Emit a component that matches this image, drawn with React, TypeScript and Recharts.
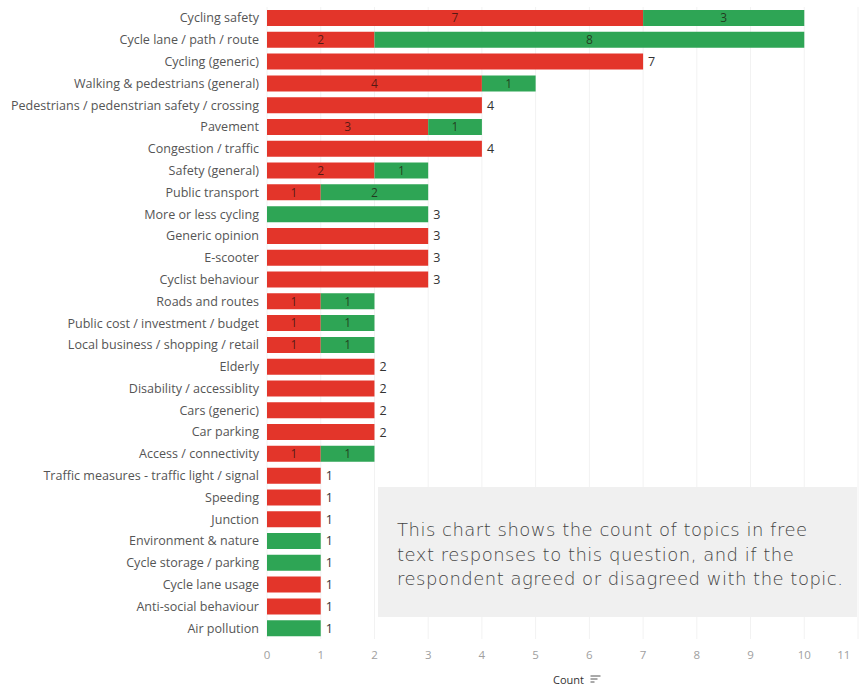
import React from 'react';
import { BarChart, Bar, XAxis, YAxis, CartesianGrid, LabelList } from 'recharts';

const topics = [
  'Cycling safety',
  'Cycle lane / path / route',
  'Cycling (generic)',
  'Walking & pedestrians (general)',
  'Pedestrians / pedenstrian safety / crossing',
  'Pavement',
  'Congestion / traffic',
  'Safety (general)',
  'Public transport',
  'More or less cycling',
  'Generic opinion',
  'E-scooter',
  'Cyclist behaviour',
  'Roads and routes',
  'Public cost / investment / budget',
  'Local business / shopping / retail',
  'Elderly',
  'Disability / accessiblity',
  'Cars (generic)',
  'Car parking',
  'Access / connectivity',
  'Traffic measures - traffic light / signal',
  'Speeding',
  'Junction',
  'Environment & nature',
  'Cycle storage / parking',
  'Cycle lane usage',
  'Anti-social behaviour',
  'Air pollution',
];

// red segment
const disagreed = [7, 2, 7, 4, 4, 3, 4, 2, 1, 0, 3, 3, 3, 1, 1, 1, 2, 2, 2, 2, 1, 1, 1, 1, 0, 0, 1, 1, 0];
// green segment
const agreed = [3, 8, 0, 1, 0, 1, 0, 1, 2, 3, 0, 0, 0, 1, 1, 1, 0, 0, 0, 0, 1, 0, 0, 0, 1, 1, 0, 0, 1];

const xTicks = [0, 1, 2, 3, 4, 5, 6, 7, 8, 9, 10, 11];

const RED = '#e3352a';
const GREEN = '#2ea555';
const FONT = '"Open Sans", sans-serif';

const data = topics.map((topic, i) => {
  const d = disagreed[i];
  const a = agreed[i];
  const both = d > 0 && a > 0;
  return {
    topic,
    disagreed: d,
    agreed: a,
    disagreedIn: both ? d : null,
    disagreedOut: d > 0 && a === 0 ? d : null,
    agreedIn: both ? a : null,
    agreedOut: a > 0 && d === 0 ? a : null,
  };
});

const XTick = ({ x, y, payload }: any) => {
  const last = payload.value === 11;
  return (
    <text
      x={last ? x - 1 : x}
      y={y + 12}
      textAnchor={last ? 'end' : 'middle'}
      fill="#a0a0a0"
      fontSize={11.5}
      fontFamily={FONT}
    >
      {payload.value}
    </text>
  );
};

const YTick = ({ x, y, payload }: any) => (
  <text
    x={x}
    y={y}
    dy={4.5}
    textAnchor="end"
    fill="#555"
    fontSize={12.55}
    fontFamily={FONT}
  >
    {payload.value}
  </text>
);

const CountLabel = ({ viewBox }: any) => {
  const cx = viewBox.x + viewBox.width / 2 + 8;
  const y = viewBox.y + viewBox.height - 2;
  return (
    <g>
      <text x={cx - 2} y={y} textAnchor="middle" fill="#333" fontSize={11} fontFamily={FONT}>
        Count
      </text>
      <line x1={cx + 20} x2={cx + 30} y1={y - 8} y2={y - 8} stroke="#555" strokeWidth={1} />
      <line x1={cx + 20} x2={cx + 27} y1={y - 5} y2={y - 5} stroke="#555" strokeWidth={1} />
      <line x1={cx + 20} x2={cx + 24} y1={y - 2} y2={y - 2} stroke="#555" strokeWidth={1} />
    </g>
  );
};

const innerStyle = { fill: 'rgba(30,15,10,0.72)', fontSize: 12, fontFamily: FONT };
const outerStyle = { fill: '#333', fontSize: 12.5, fontFamily: FONT };

export default function App() {
  return (
    <div style={{ position: 'absolute', left: 0, top: 0, width: 859, height: 686, background: '#fff' }}>
      <BarChart
        width={859}
        height={686}
        data={data}
        layout="vertical"
        barSize={16}
        margin={{ top: 7, right: 1, bottom: 0, left: 0 }}
      >
        <CartesianGrid horizontal={false} stroke="#f2f2f2" />
        <XAxis
          type="number"
          domain={[0, 11]}
          ticks={xTicks}
          axisLine={false}
          tickLine={false}
          tick={<XTick />}
          height={47}
          label={<CountLabel />}
        />
        <YAxis
          type="category"
          dataKey="topic"
          width={267}
          axisLine={false}
          tickLine={false}
          interval={0}
          tick={<YTick />}
        />
        <Bar dataKey="disagreed" stackId="t" fill={RED} isAnimationActive={false}>
          <LabelList dataKey="disagreedIn" position="center" style={innerStyle} />
          <LabelList dataKey="disagreedOut" position="right" offset={5} style={outerStyle} />
        </Bar>
        <Bar dataKey="agreed" stackId="t" fill={GREEN} isAnimationActive={false}>
          <LabelList dataKey="agreedIn" position="center" style={innerStyle} />
          <LabelList dataKey="agreedOut" position="right" offset={5} style={outerStyle} />
        </Bar>
      </BarChart>
      <div
        style={{
          position: 'absolute',
          left: 378,
          top: 487,
          width: 479,
          height: 130,
          background: '#f0f0f0',
          boxSizing: 'border-box',
          padding: '31px 0 0 19px',
          fontFamily: '"DejaVu Sans", sans-serif',
          fontWeight: 300,
          fontSize: 18,
          letterSpacing: 0.5,
          lineHeight: '24.5px',
          color: '#444',
          whiteSpace: 'nowrap',
        }}
      >
        This chart shows the count of topics in free
        <br />
        text responses to this question, and if the
        <br />
        respondent agreed or disagreed with the topic.
      </div>
    </div>
  );
}
